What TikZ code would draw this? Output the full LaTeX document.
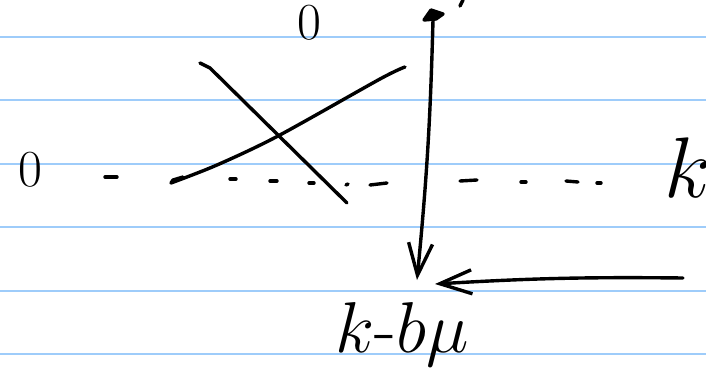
\RequirePackage{fix-cm}
\documentclass[tikz,border=0pt]{standalone}
\usepackage{tikz}
\usepackage{xcolor}
\definecolor{RuleBlue}{RGB}{158,204,250}
\usetikzlibrary{arrows.meta}

\begin{document}
\begin{tikzpicture}[x=0.5pt, y=-0.5pt,
    rule/.style={draw=RuleBlue, line width=1.1pt},
    ink/.style={draw=black, line width=1.7pt, line cap=round, line join=round},
    barb/.style={ink, -{Straight Barb[length=16pt, width=12pt]}},
    digit/.style={inner sep=0pt, font=\fontsize{26}{28}\selectfont},
    letter/.style={inner sep=0pt, font=\fontsize{36}{40}\selectfont}
]
    \useasboundingbox (0,0) rectangle (706,369);
    % ruled paper
    \foreach \y in {37,100,164,227,291,354}
        \draw[rule] (0,\y) -- (706,\y);

    % labels
    \node[digit] (zeroTop) at (309,23) {$0$};
    \node[digit] (zeroLeft) at (30,170) {$0$};
    \node[letter, font=\fontsize{43}{45}\selectfont, anchor=base west] (kRight) at (664,197) {$k$};
    \node[letter, anchor=base] (kbmu) at (402,352) {$k$-$b\mu$};

    % dashed axis from 0 to k
    \foreach \xa/\ya/\xb/\yb in {105/177/117/177, 230/179/236/179, 270/181/277/181,
            309/183/314/183, 346/185/348/184, 370/185/387/183, 460/181/477/180,
            521/182/526/182, 566/181/578/182, 597/183/601/183}
        \draw[ink] (\xa,\ya) -- (\xb,\yb);

    % the two crossing lines
    \draw[ink] (183,177) -- (173,180) -- (171,183)
        plot[smooth] coordinates {(171,183) (217,165) (278,136) (380,79) (405,67)};
    \draw[ink] (200,63) -- (210,68) -- (347,203);

    % arrows
    \coordinate (vTop) at (433,20);
    \coordinate (vTip) at (417,280);
    \coordinate (hTail) at (683,278);
    \coordinate (hTip) at (435,284);
    \fill[ink] (424,20) -- (431,10) -- (443,14) -- (436,19) -- cycle;
    \draw[ink] (460,6) -- (463,0);
    \draw[barb] (vTop) to[bend left=2] (vTip);
    \draw[barb] (hTail) to[bend right=2] (hTip);
\end{tikzpicture}
\end{document}
